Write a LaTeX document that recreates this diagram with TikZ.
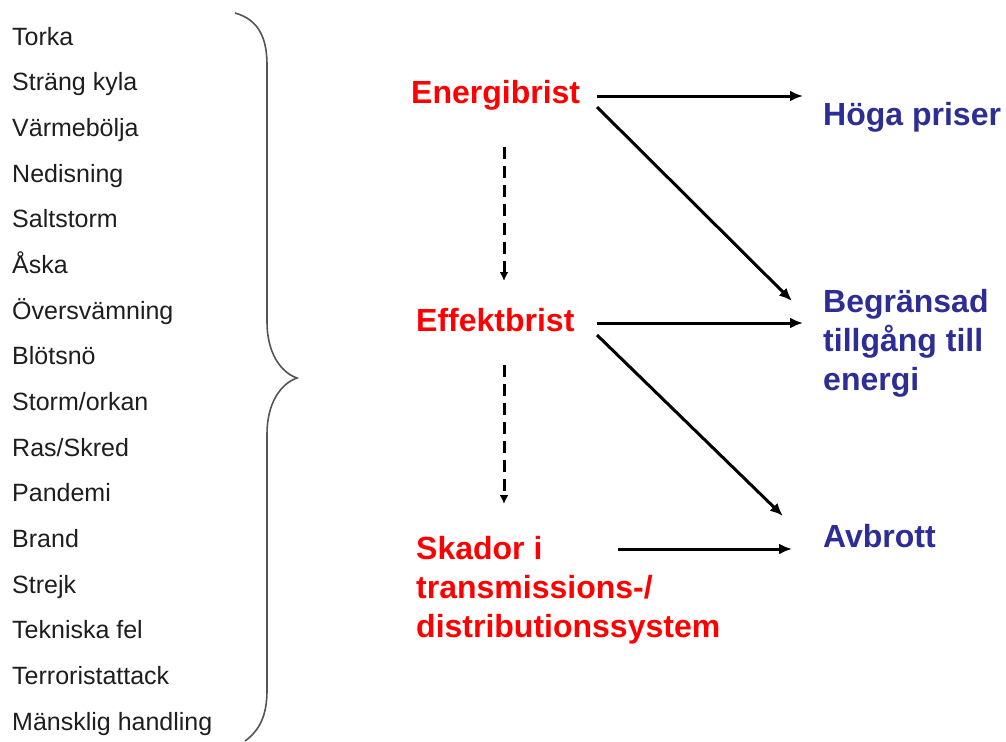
\documentclass[tikz,border=0pt]{standalone}
\usepackage{fontspec}
\setmainfont{Liberation Sans}
\usetikzlibrary{arrows.meta,calc}
\definecolor{redtxt}{RGB}{255,0,0}
\definecolor{bluetxt}{RGB}{45,45,150}
\definecolor{listtxt}{RGB}{30,30,30}
\definecolor{bracecol}{RGB}{85,85,85}
\begin{document}
\begin{tikzpicture}[x=1pt,y=-1pt,
 item/.style={anchor=base west,inner sep=0,text=listtxt,font=\fontsize{25}{30}\selectfont},
 cause/.style={anchor=base west,inner sep=0,text=redtxt,font=\fontsize{32}{39}\selectfont\bfseries,align=left},
 effect/.style={anchor=base west,inner sep=0,text=bluetxt,font=\fontsize{32}{39}\selectfont\bfseries,align=left},
 arr/.style={line width=3pt,-{Latex[length=13pt,width=11pt]}},
 darr/.style={line width=3pt,dash pattern=on 12pt off 7pt,-{Latex[length=9pt,width=9pt]}},
 bracestyle/.style={draw=bracecol,line width=1.6pt}]
\path[fill=white] (0,0) rectangle (1006,739);
% list of hazards
\foreach \t [count=\i] in {Torka,Sträng kyla,Värmebölja,Nedisning,Saltstorm,Åska,Översvämning,Blötsnö,Storm/orkan,Ras/Skred,Pandemi,Brand,Strejk,Tekniska fel,Terroristattack,Mänsklig handling}
  \node[item] (l\i) at (12,{45+45.67*(\i-1)}) {\t};
% brace
\draw[bracestyle] (235,13) .. controls (260,20) and (267,40) .. (267,65) -- (267,322)
  .. controls (267,352) and (280,372) .. (297,378)
  .. controls (280,384) and (267,404) .. (267,434) -- (267,690)
  .. controls (267,715) and (260,730) .. (245,741);
% causes (base = baseline of last line)
\node[cause] (ener) at (411,103) {Energibrist};
\node[cause] (eff) at (416,331) {Effektbrist};
\node[cause] (skad) at (416,637) {Skador i\\transmissions-/\\distributionssystem};
% effects
\node[effect] (hoga) at (823,125) {Höga priser};
\node[effect] (beg) at (823,390) {Begränsad\\tillgång till\\energi};
\node[effect] (avb) at (823,547) {Avbrott};
% connectors
\draw[arr] ([shift={(186pt,7pt)}]ener.base west) -- ([shift={(-20pt,29pt)}]hoga.base west);
\draw[arr] ([shift={(186pt,-4pt)}]ener.base west) -- ([shift={(-31pt,89pt)}]beg.base west);
\draw[arr] ([shift={(181pt,8pt)}]eff.base west) -- ([shift={(-20pt,67pt)}]beg.base west);
\draw[arr] ([shift={(181pt,-4pt)}]eff.base west) -- ([shift={(-40pt,31pt)}]avb.base west);
\draw[arr] ([shift={(202pt,88pt)}]skad.base west) -- ([shift={(-31pt,-2pt)}]avb.base west);
\draw[darr] ([shift={(93pt,-44pt)}]ener.base west) -- ([shift={(88pt,50pt)}]eff.base west);
\draw[darr] ([shift={(88pt,-34pt)}]eff.base west) -- ([shift={(88pt,133pt)}]skad.base west);
\end{tikzpicture}
\end{document}
